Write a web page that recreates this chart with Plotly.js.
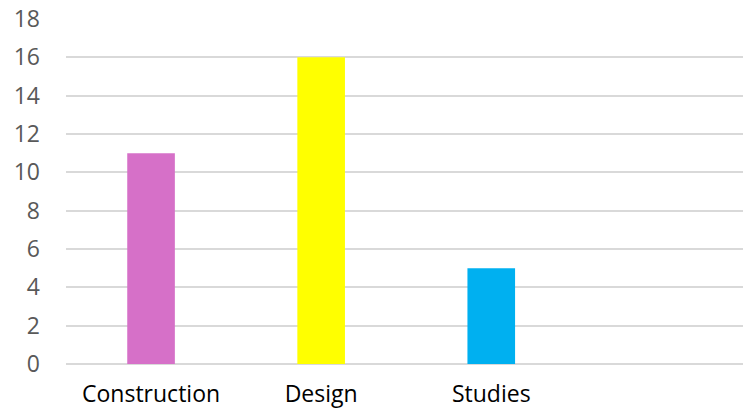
<!DOCTYPE html>
<html>
<head>
<meta charset="utf-8">
<script src="https://cdn.plot.ly/plotly-3.0.1.min.js"></script>
<style>html,body{margin:0;padding:0;background:#fff;}#chart{width:743px;height:411px;}</style>
</head>
<body>
<div id="chart"></div>
<script>
const categories = ['Construction', 'Design', 'Studies'];
const values = [11, 16, 5];
const barColors = ['#D670C8', '#FFFF00', '#00B0F0'];
const yTicks = [0, 2, 4, 6, 8, 10, 12, 14, 16, 18];

const trace = {
  type: 'bar',
  x: categories,
  y: values,
  marker: {color: barColors, line: {width: 0}},
  width: 0.28,
  hoverinfo: 'none'
};

const layout = {
  width: 743,
  height: 411,
  margin: {l: 66, r: 0, t: 19, b: 47},
  paper_bgcolor: '#ffffff',
  plot_bgcolor: '#ffffff',
  showlegend: false,
  font: {family: 'Open Sans, Liberation Sans, Arial, sans-serif'},
  xaxis: {
    type: 'category',
    range: [-0.5, 3.48],
    showgrid: false,
    zeroline: false,
    showline: false,
    ticks: '',
    ticklabelstandoff: 14,
    tickfont: {size: 23, color: '#000000'},
    fixedrange: true
  },
  yaxis: {
    range: [0, 18],
    tickvals: yTicks,
    ticktext: yTicks.map(String),
    showgrid: true,
    gridcolor: '#d9d9d9',
    gridwidth: 2,
    zeroline: true,
    zerolinecolor: '#d9d9d9',
    zerolinewidth: 2,
    showline: false,
    ticks: '',
    ticklabelstandoff: 25,
    tickfont: {size: 23, color: '#595959'},
    fixedrange: true
  }
};

Plotly.newPlot('chart', [trace], layout, {displayModeBar: false, staticPlot: true});
</script>
</body>
</html>
